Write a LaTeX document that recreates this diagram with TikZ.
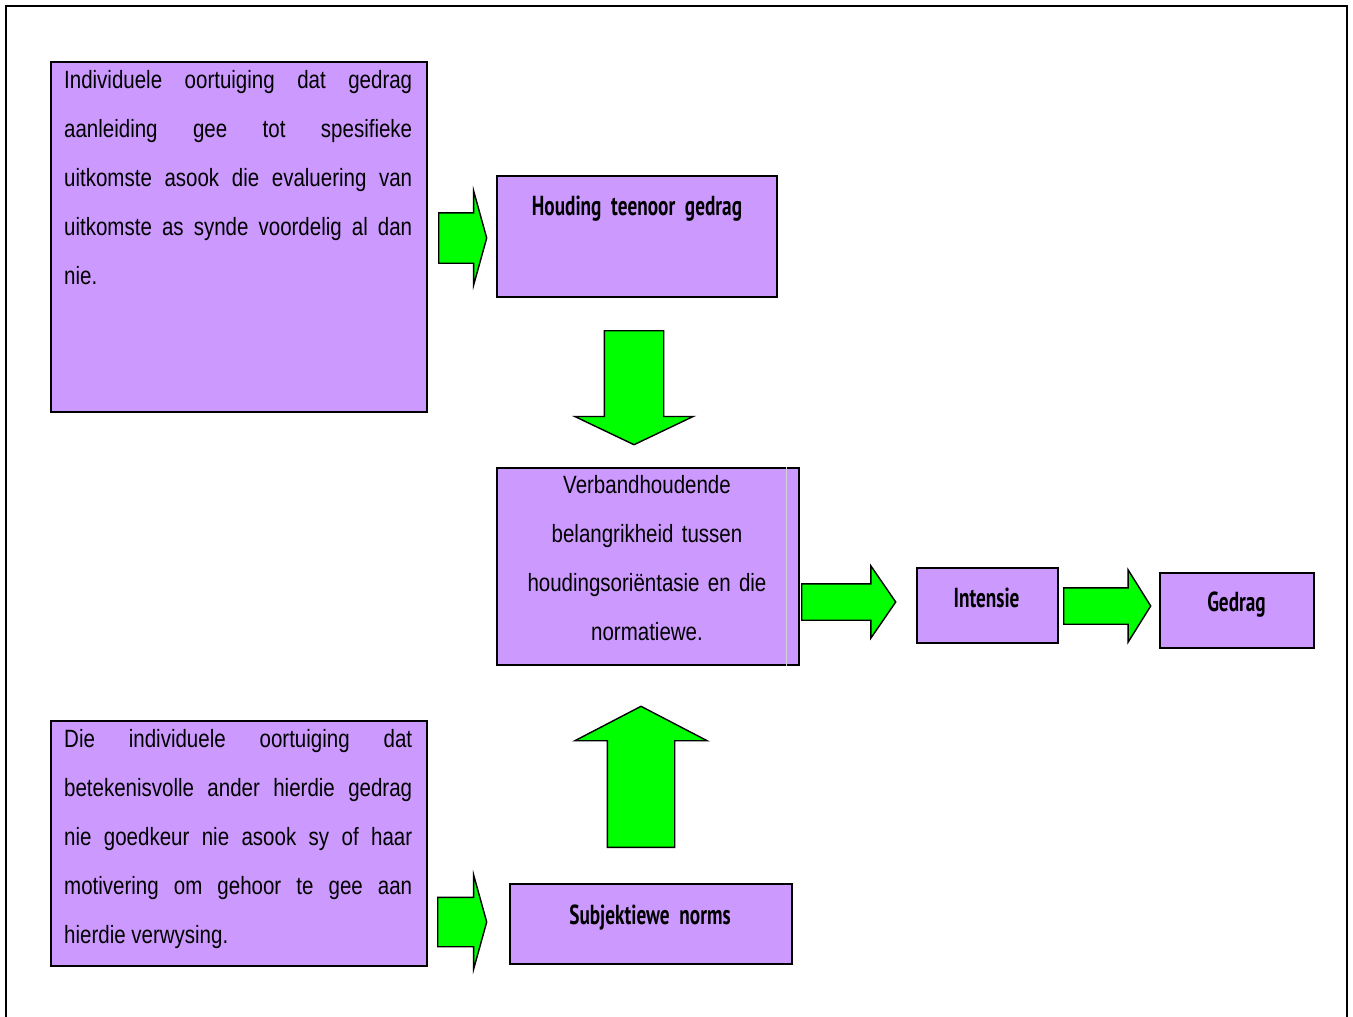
\documentclass[tikz,border=0pt]{standalone}
\usepackage{fontspec}
\setmainfont{Liberation Sans}[FakeStretch=0.82]
\newfontfamily\headfont{PT Sans}[FakeStretch=0.7]
\usepackage{xcolor}
\usetikzlibrary{shapes.arrows}

\definecolor{lila}{HTML}{CC99FF}
\definecolor{arrowgreen}{HTML}{00FF00}

\begin{document}
\begin{tikzpicture}[
    x=1pt, y=-1pt,
    pbox/.style={
        rectangle, draw=black, line width=2pt, fill=lila,
        inner sep=0pt, anchor=north west
    },
    bodytxt/.style={
        inner sep=0pt, font=\fontsize{25}{49}\selectfont,
        text width=348pt, align=justify, anchor=north west
    },
    headtxt/.style={
        inner sep=0pt, font=\headfont\bfseries\fontsize{27.5}{30}\selectfont,
        anchor=base
    },
    blockarr/.style={
        single arrow, draw=black, line width=1.4pt, fill=arrowgreen,
        inner sep=0pt, anchor=tail
    }
]
\useasboundingbox (0,0) rectangle (1353,1017);

% outer frame, open at the bottom
\draw[line width=2.5pt] (6,1020) -- (6,6) -- (1347,6) -- (1347,1020);

% Boxes
\node[pbox, minimum width=376pt, minimum height=350pt] (oortuig) at (50,61) {};
\node[pbox, minimum width=280pt, minimum height=121pt] (houding) at (496,175) {};
\node[pbox, minimum width=302pt, minimum height=197pt] (verband) at (496,467) {};
\node[pbox, minimum width=141pt, minimum height=75pt] (intensie) at (916,567) {};
\node[pbox, minimum width=154pt, minimum height=75pt] (gedrag) at (1159,572) {};
\node[pbox, minimum width=376pt, minimum height=245pt] (norme) at (50,720) {};
\node[pbox, minimum width=282pt, minimum height=80pt] (subjek) at (509,883) {};
\draw[gray!35, line width=0.8pt] ([xshift=-14pt]verband.north east) -- ([xshift=-14pt]verband.south east);

% Texts
\node[bodytxt] (oortuigtxt) at (64,70) {Individuele oortuiging dat gedrag\linebreak
    aanleiding gee tot spesifieke\linebreak
    uitkomste asook die evaluering van\linebreak
    uitkomste as synde voordelig al dan\linebreak
    nie.};
\node[bodytxt] (normetxt) at (64,729) {Die individuele oortuiging dat\linebreak
    betekenisvolle ander hierdie gedrag\linebreak
    nie goedkeur nie asook sy of haar\linebreak
    motivering om gehoor te gee aan\linebreak
    hierdie verwysing.};
\node[bodytxt, text width=300pt, align=center, anchor=north] (verbandtxt) at (647,475)
    {Verbandhoudende\\ belangrikheid tussen\\ houdingsoriëntasie en die\\ normatiewe.};
\node[headtxt] (houdingtxt) at (637,215) {Houding~ teenoor~ gedrag};
\node[headtxt] (intensietxt) at (986.5,607) {Intensie};
\node[headtxt] (gedragtxt) at (1236.5,611) {Gedrag};
\node[headtxt] (subjektxt) at (650,924) {Subjektiewe~ norms};

% Block arrows
\node[blockarr, text height=24.5pt, text depth=24.5pt, single arrow head extend=22pt,
      single arrow tip angle=149, minimum height=48pt] (arrA) at (438,238) {};
\node[blockarr, rotate=-90, text height=29pt, text depth=29pt, single arrow head extend=29.5pt,
      single arrow tip angle=129, minimum height=114pt] (arrB) at (634,330) {};
\node[blockarr, text height=17.5pt, text depth=17.5pt, single arrow head extend=18pt,
      single arrow tip angle=111, minimum height=94pt] (arrC) at (801,602) {};
\node[blockarr, text height=17.5pt, text depth=17.5pt, single arrow head extend=18pt,
      single arrow tip angle=116, minimum height=87pt] (arrI) at (1063,606) {};
\node[blockarr, rotate=90, text height=33pt, text depth=33pt, single arrow head extend=32.5pt,
      single arrow tip angle=125, minimum height=141pt] (arrS) at (641,848) {};
\node[blockarr, text height=24pt, text depth=24pt, single arrow head extend=22.5pt,
      single arrow tip angle=149, minimum height=49pt] (arrD) at (437,922) {};

\end{tikzpicture}
\end{document}
